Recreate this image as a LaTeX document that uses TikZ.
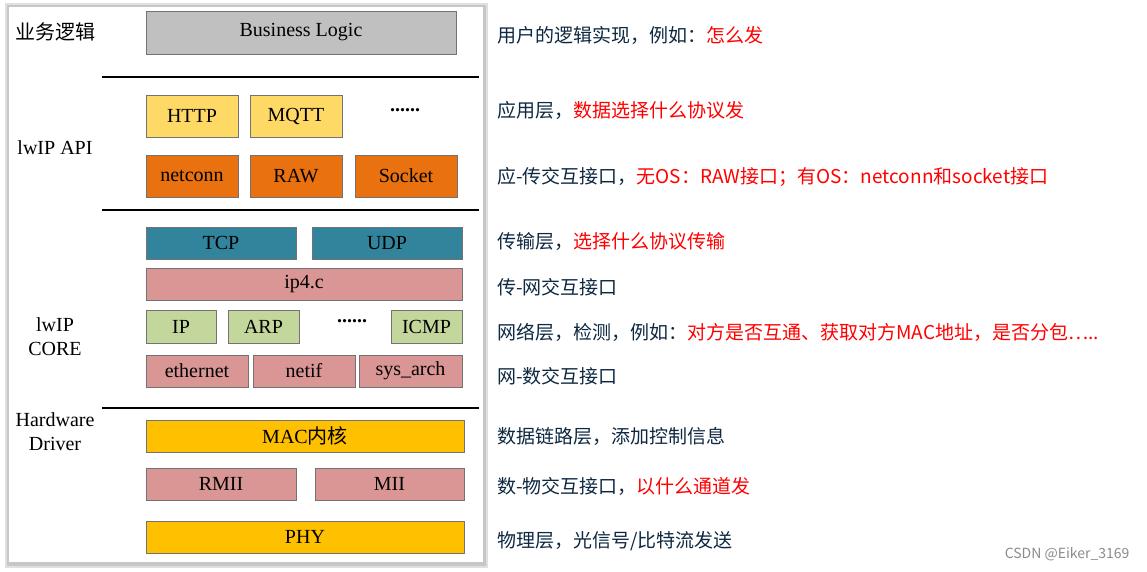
\documentclass[tikz,border=0pt]{standalone}
\usepackage{fontspec}
\setmainfont{Liberation Serif}
\newfontfamily\cjk{Noto Sans CJK SC}
\definecolor{bgray}{HTML}{C0C0C0}
\definecolor{yel}{HTML}{FFD966}
\definecolor{org}{HTML}{E9710F}
\definecolor{teal}{HTML}{31849B}
\definecolor{pink}{HTML}{D99694}
\definecolor{grn}{HTML}{C3D69B}
\definecolor{gold}{HTML}{FFC000}
\definecolor{navy}{HTML}{0E2841}
\definecolor{rd}{HTML}{FF0000}
\begin{document}
\begin{tikzpicture}[x=1pt,y=-1pt,
  blk/.style={draw=black!55,line width=0.8pt},
  lbl/.style={font=\fontsize{20}{24}\selectfont},
  rt/.style={anchor=west,font=\cjk\fontsize{19}{22}\selectfont,text=navy,inner sep=0pt},
  sep/.style={line width=1.3pt}]
\useasboundingbox (0,0) rectangle (1147,571);
\fill[white] (0,0) rectangle (1147,571);
\fill[black!12] (5,3) rectangle (488,568);
\fill[black!22] (7,5) rectangle (486,566);
\fill[white] (9,7) rectangle (483,562);
% boxes
\newcommand\bx[6]{\draw[blk,fill=#5] (#1,#2) rectangle (#3,#4); \node[lbl] at ({(#1+#3)/2},{(#2+#4)/2}) {#6};}
\bx{146}{11}{456}{54}{bgray}{Business Logic}
\bx{146}{95}{238}{137}{yel}{HTTP}
\bx{250}{95}{342}{137}{yel}{MQTT}
\node[lbl] (d1) at (405,110) {\textbf{......}};
\bx{146}{155}{238}{197}{org}{netconn}
\bx{250}{155}{342}{197}{org}{RAW}
\bx{355}{155}{457}{197}{org}{Socket}
\bx{146}{227}{296}{259}{teal}{TCP}
\bx{312}{227}{462}{259}{teal}{UDP}
\bx{146}{268}{462}{300}{pink}{ip4.c}
\bx{146}{310}{216}{343}{grn}{IP}
\bx{228}{310}{299}{343}{grn}{ARP}
\node[lbl] (d2) at (352,321) {\textbf{......}};
\bx{391}{310}{462}{343}{grn}{ICMP}
\bx{146}{355}{248}{387}{pink}{ethernet}
\bx{253}{355}{355}{387}{pink}{netif}
\bx{359}{355}{462}{387}{pink}{sys\_arch}
\bx{146}{420}{464}{452}{gold}{MAC{\cjk 内核}}
\bx{146}{468}{296}{500}{pink}{RMII}
\bx{315}{468}{464}{500}{pink}{MII}
\bx{146}{521}{464}{553}{gold}{PHY}
% separators
\draw[sep] (102,77) -- (479,77);
\draw[sep] (102,210) -- (479,210);
\draw[sep] (102,408) -- (479,408);
% left labels
\node[lbl] (l1) at (55,32) {\cjk 业务逻辑};
\node[lbl] (l2) at (55,148) {lwIP API};
\node[lbl,align=center] (l3) at (55,337) {lwIP\\CORE};
\node[lbl,align=center] (l4) at (55,432) {Hardware\\Driver};
% right texts
\node[rt] (r1) at (497,35) {用户的逻辑实现，例如：\textcolor{rd}{怎么发}};
\node[rt] (r2) at (497,110) {应用层，\textcolor{rd}{数据选择什么协议发}};
\node[rt] (r3) at (497,177) {应-传交互接口，\textcolor{rd}{无OS：RAW接口；有OS：netconn和socket接口}};
\node[rt] (r4) at (497,242) {传输层，\textcolor{rd}{选择什么协议传输}};
\node[rt] (r5) at (497,287) {传-网交互接口};
\node[rt] (r6) at (497,332) {网络层，检测，例如：\textcolor{rd}{对方是否互通、获取对方MAC地址，是否分包…..}};
\node[rt] (r7) at (497,376) {网-数交互接口};
\node[rt] (r8) at (497,436) {数据链路层，添加控制信息};
\node[rt] (r9) at (497,486) {数-物交互接口，\textcolor{rd}{以什么通道发}};
\node[rt] (r10) at (497,541) {物理层，光信号/比特流发送};
\node[anchor=east,font=\cjk\fontsize{14}{16}\selectfont,text=black!45] (wm) at (1133,554) {CSDN @Eiker\_3169};
\end{tikzpicture}
\end{document}
